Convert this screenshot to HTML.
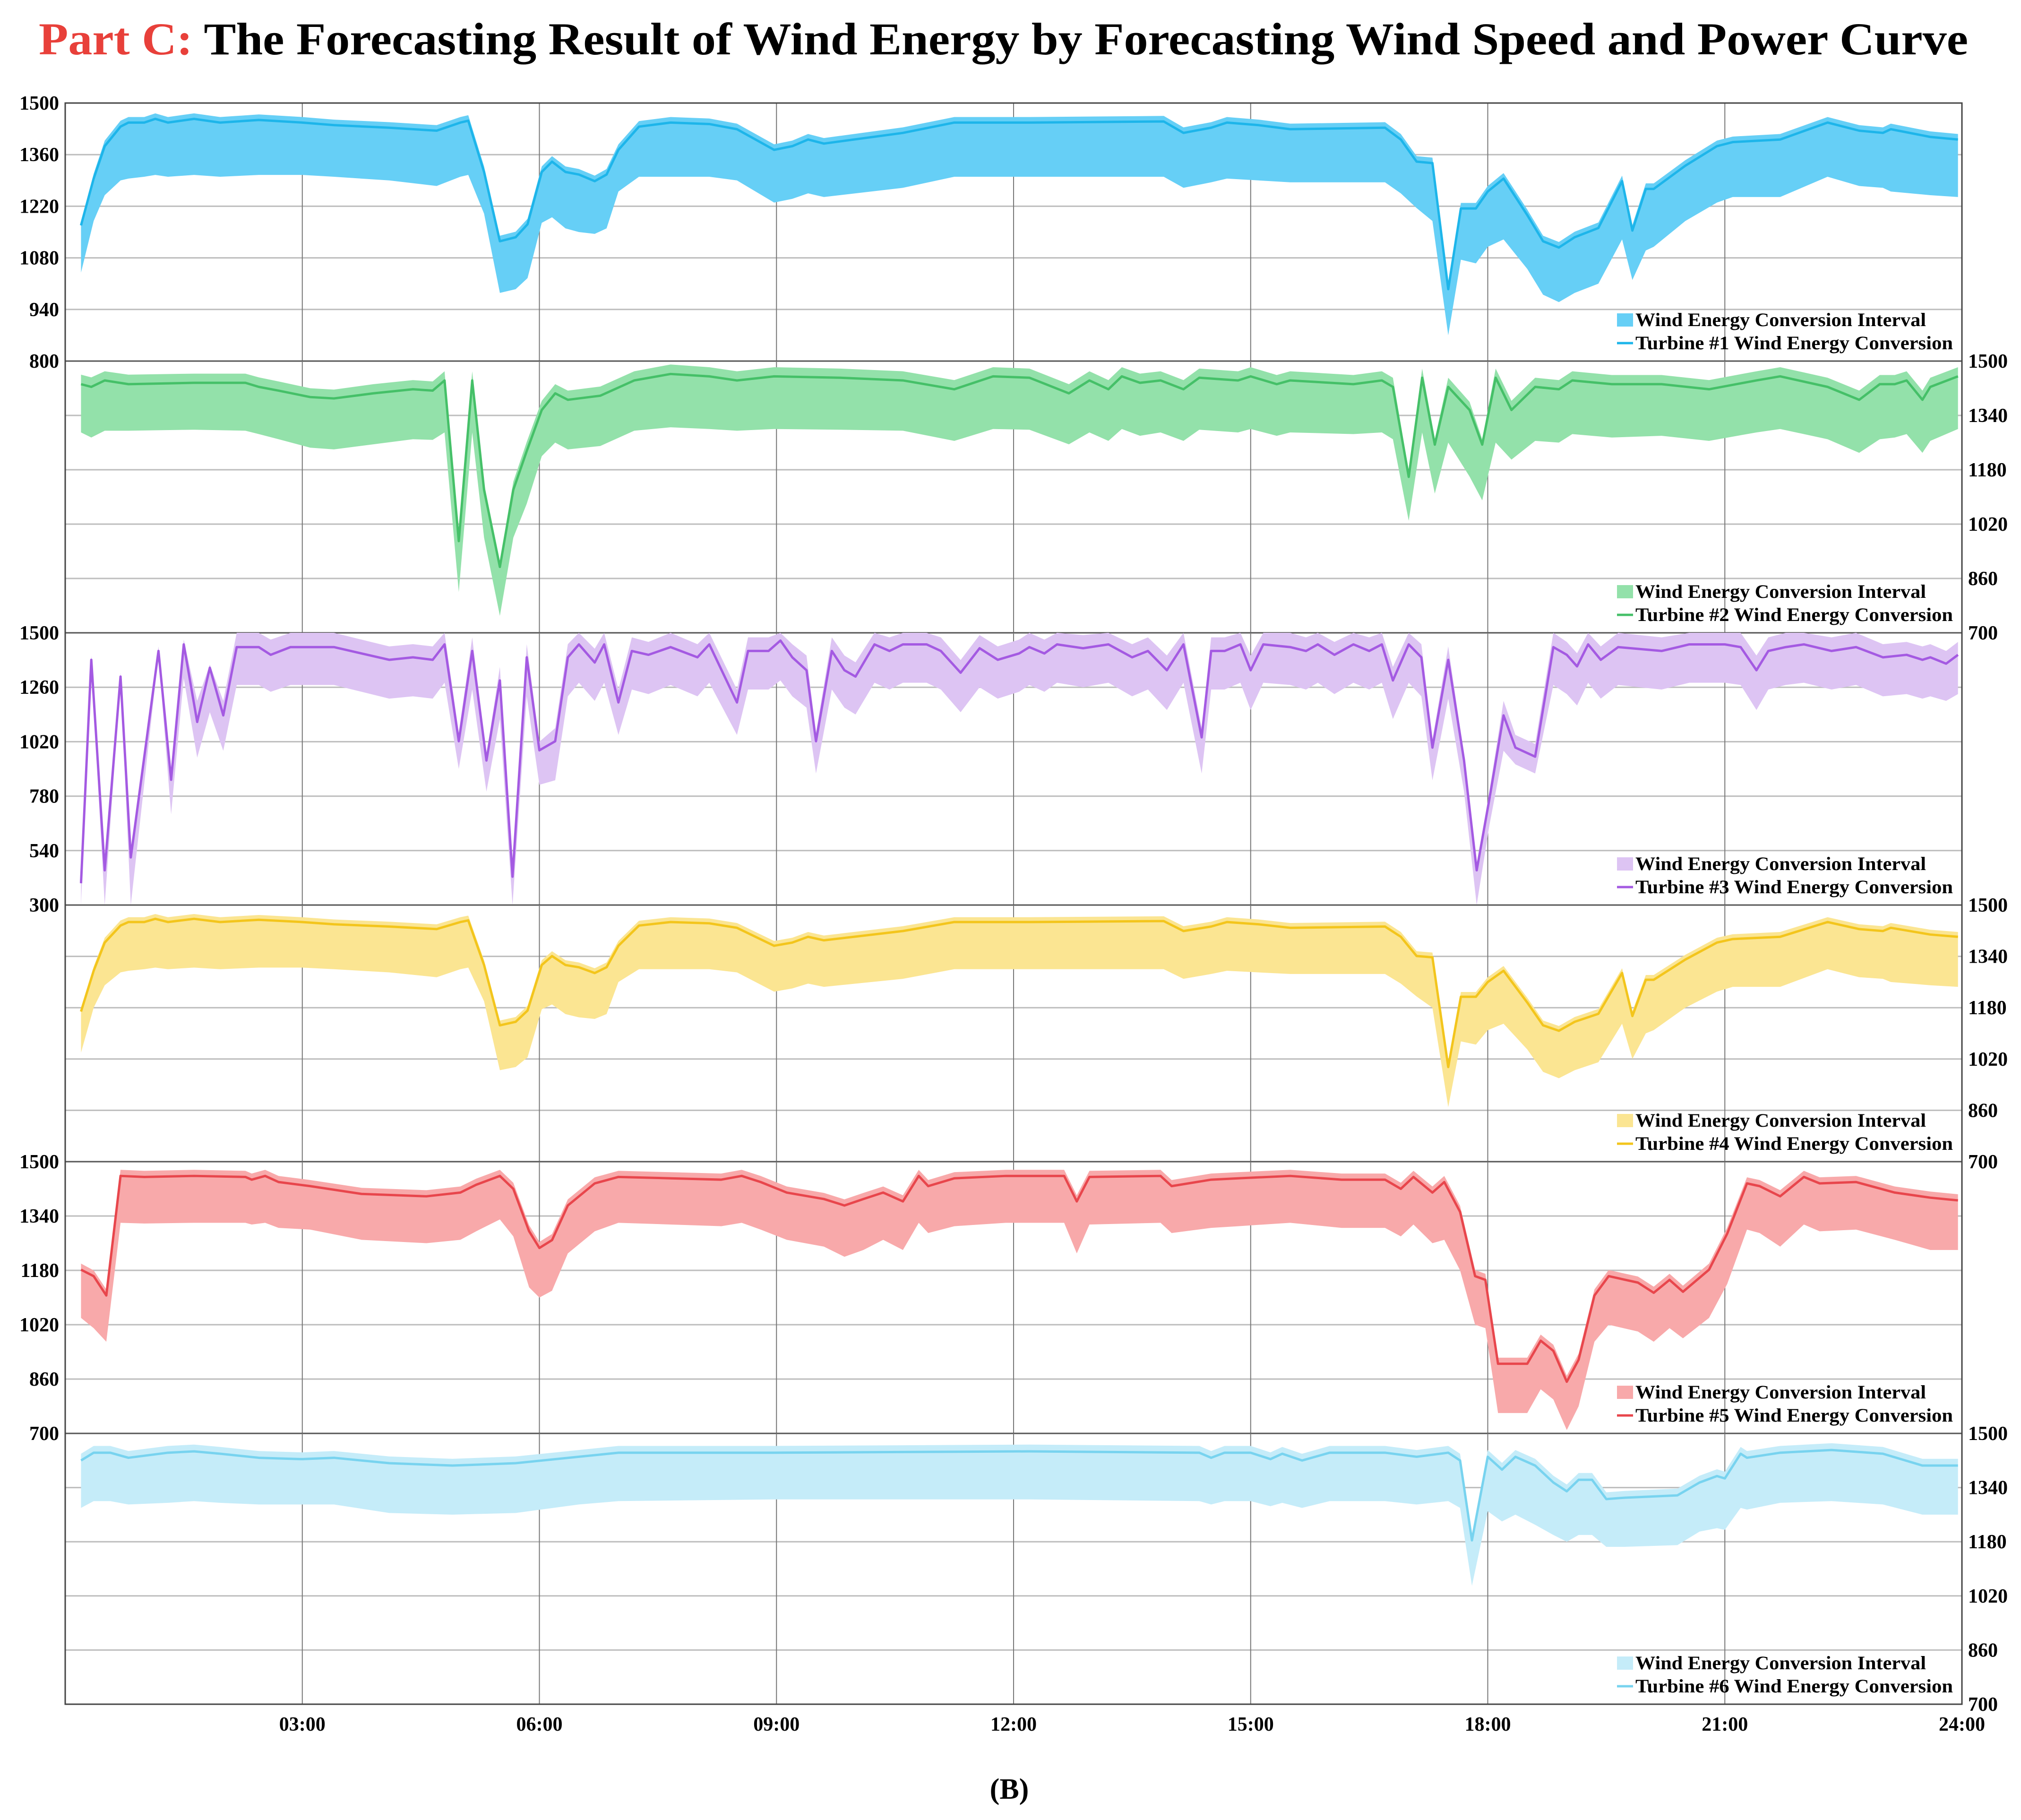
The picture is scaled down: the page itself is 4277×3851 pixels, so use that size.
<!DOCTYPE html>
<html><head><meta charset="utf-8">
<style>
html,body{margin:0;padding:0;background:#fff;}
svg{display:block;font-family:"Liberation Serif",serif;font-weight:bold;}
</style></head>
<body>
<svg id="chart" xmlns="http://www.w3.org/2000/svg" width="4277" height="3851" viewBox="0 0 4277 3851">
<rect x="0" y="0" width="4277" height="3851" fill="#fff"/>
<text x="82" y="115" font-size="96" textLength="4083" lengthAdjust="spacingAndGlyphs"><tspan fill="#e8403a">Part C:</tspan><tspan fill="#000"> The Forecasting Result of Wind Energy by Forecasting Wind Speed and Power Curve</tspan></text>
<g id="plots"></g>
<text x="2136" y="3806" font-size="62" text-anchor="middle" fill="#000">(B)</text>
</svg>
<script>
// ---- data ----
const xTickLabels = ["03:00","06:00","09:00","12:00","15:00","18:00","21:00","24:00"];
const xTickHours = [3,6,9,12,15,18,21,24];

const t1 = [0.2,0.36,0.5,0.7,0.8,1.0,1.14,1.3,1.63,1.96,2.45,3.0,3.4,4.1,4.7,5.0,5.1,5.3,5.5,5.7,5.85,6.03,6.16,6.33,6.5,6.7,6.85,7.0,7.26,7.66,8.15,8.5,8.97,9.2,9.4,9.6,10.6,11.25,12.2,13.9,14.15,14.5,14.7,15.1,15.5,16.7,16.9,17.1,17.3,17.5,17.66,17.85,18.0,18.2,18.5,18.7,18.9,19.1,19.4,19.7,19.83,20.0,20.1,20.5,20.9,21.1,21.7,22.3,22.7,23.0,23.1,23.6,23.95];
const line1 = [1168,1295,1383,1436,1447,1447,1457,1447,1457,1447,1454,1447,1440,1433,1425,1447,1452,1313,1125,1136,1171,1313,1341,1313,1306,1288,1306,1373,1436,1447,1443,1429,1373,1383,1401,1390,1419,1447,1447,1450,1419,1433,1447,1440,1429,1433,1401,1341,1337,995,1214,1214,1260,1295,1196,1125,1108,1136,1161,1288,1154,1267,1267,1330,1383,1394,1401,1447,1425,1419,1429,1408,1401];
const hi1 = [1178,1308,1398,1452,1462,1462,1472,1462,1472,1462,1469,1462,1455,1448,1440,1462,1467,1328,1140,1151,1186,1328,1356,1328,1321,1303,1321,1388,1451,1462,1458,1444,1388,1398,1416,1405,1434,1462,1462,1465,1434,1448,1462,1455,1444,1448,1416,1356,1352,1010,1229,1229,1275,1310,1211,1140,1123,1151,1176,1303,1169,1282,1282,1345,1398,1409,1416,1462,1440,1434,1444,1423,1416];
const lo1 = [1040,1180,1250,1290,1295,1300,1305,1300,1305,1300,1305,1305,1300,1290,1275,1300,1305,1200,985,995,1025,1175,1190,1160,1150,1145,1160,1260,1300,1300,1300,1290,1230,1240,1255,1245,1270,1300,1300,1300,1270,1285,1295,1290,1285,1285,1255,1215,1180,870,1075,1065,1110,1130,1050,980,960,985,1010,1130,1020,1100,1110,1180,1230,1245,1245,1300,1275,1270,1260,1250,1245];

const t2 = [0.2,0.33,0.5,0.8,1.63,2.28,2.45,2.7,3.1,3.4,3.9,4.4,4.65,4.8,4.98,5.15,5.3,5.5,5.67,5.84,6.03,6.2,6.36,6.77,7.2,7.66,8.15,8.5,8.97,9.8,10.6,11.25,11.74,12.2,12.7,12.96,13.2,13.37,13.6,13.86,14.15,14.35,14.84,15.0,15.33,15.5,16.3,16.66,16.8,17.0,17.17,17.33,17.5,17.77,17.93,18.1,18.3,18.6,18.9,19.07,19.57,20.2,20.8,21.4,21.7,22.3,22.7,22.96,23.15,23.3,23.5,23.6,23.95];
const line2 = [1432,1424,1443,1432,1436,1436,1424,1413,1394,1390,1405,1417,1413,1443,970,1443,1121,894,1121,1235,1356,1405,1386,1398,1443,1462,1455,1443,1455,1451,1443,1417,1455,1451,1405,1443,1417,1455,1436,1443,1417,1451,1443,1455,1432,1443,1432,1443,1424,1159,1451,1254,1424,1356,1254,1451,1356,1424,1417,1443,1432,1432,1417,1443,1455,1424,1386,1432,1432,1443,1386,1424,1455];
const hi2 = [1460,1452,1470,1460,1463,1463,1452,1440,1420,1416,1432,1444,1440,1470,990,1470,1140,910,1145,1262,1383,1432,1413,1425,1470,1490,1482,1470,1482,1478,1470,1444,1482,1478,1432,1470,1444,1482,1463,1470,1444,1478,1470,1482,1459,1470,1459,1470,1451,1175,1478,1270,1451,1380,1270,1478,1383,1451,1444,1470,1459,1459,1444,1470,1482,1451,1413,1459,1459,1470,1413,1451,1482];
const lo2 = [1290,1275,1295,1295,1298,1295,1285,1270,1245,1240,1255,1270,1268,1290,820,1290,980,750,980,1080,1220,1260,1240,1250,1295,1305,1300,1295,1300,1298,1295,1265,1300,1298,1255,1290,1265,1300,1280,1290,1265,1298,1290,1300,1280,1290,1285,1290,1270,1030,1290,1110,1260,1160,1090,1260,1210,1265,1260,1285,1275,1280,1265,1290,1300,1270,1230,1270,1275,1285,1230,1265,1300];

const t3 = [0.2,0.33,0.5,0.7,0.83,1.18,1.34,1.5,1.67,1.83,2.0,2.17,2.45,2.6,2.85,3.4,3.75,4.1,4.4,4.65,4.8,4.98,5.15,5.33,5.5,5.66,5.84,6.0,6.2,6.36,6.5,6.7,6.82,7.0,7.17,7.38,7.66,8.0,8.15,8.5,8.64,8.9,9.05,9.2,9.38,9.5,9.7,9.86,10.0,10.24,10.43,10.6,10.9,11.08,11.33,11.57,11.8,12.07,12.2,12.39,12.55,12.88,13.2,13.5,13.7,13.94,14.15,14.38,14.5,14.67,14.87,15.0,15.16,15.5,15.7,15.85,16.06,16.3,16.5,16.66,16.8,17.0,17.16,17.3,17.5,17.7,17.86,18.02,18.2,18.35,18.6,18.83,19.0,19.13,19.27,19.43,19.65,20.2,20.55,21.0,21.2,21.4,21.55,21.77,22.0,22.35,22.66,23.0,23.3,23.5,23.6,23.8,23.95];
const line3 = [396,1381,453,1307,510,1420,852,1449,1107,1346,1136,1437,1437,1403,1437,1437,1409,1381,1392,1381,1449,1022,1420,937,1290,425,1392,982,1022,1392,1449,1369,1449,1193,1420,1403,1437,1392,1449,1193,1420,1420,1466,1392,1335,1022,1420,1335,1307,1449,1420,1449,1449,1420,1324,1432,1381,1409,1437,1409,1449,1432,1449,1392,1420,1335,1449,1039,1420,1420,1449,1335,1449,1437,1420,1449,1403,1449,1420,1449,1290,1449,1392,994,1381,937,453,766,1136,994,954,1437,1403,1352,1449,1381,1437,1420,1449,1449,1437,1335,1420,1437,1449,1420,1437,1392,1403,1381,1392,1364,1403];
const hi3 = [410,1400,470,1325,525,1440,870,1470,1200,1360,1200,1500,1500,1470,1500,1500,1470,1440,1450,1440,1500,1060,1480,960,1350,440,1450,1020,1080,1450,1500,1430,1500,1250,1480,1460,1500,1450,1500,1250,1480,1480,1500,1450,1400,1060,1480,1400,1370,1500,1480,1500,1500,1480,1380,1490,1440,1470,1500,1470,1500,1490,1500,1450,1480,1400,1500,1080,1480,1480,1500,1400,1500,1500,1480,1500,1460,1500,1480,1500,1350,1500,1450,1030,1440,960,470,800,1200,1050,1010,1500,1460,1410,1500,1440,1500,1480,1500,1500,1500,1400,1480,1500,1500,1480,1500,1450,1460,1440,1450,1420,1460];
const lo3 = [300,1360,300,1290,300,1400,700,1300,950,1150,980,1270,1270,1240,1270,1270,1240,1210,1220,1210,1280,900,1250,800,1120,300,1220,830,850,1220,1280,1200,1280,1050,1250,1230,1270,1220,1280,1050,1250,1250,1290,1220,1170,880,1250,1170,1140,1280,1250,1280,1280,1250,1150,1260,1210,1240,1270,1240,1280,1260,1280,1220,1250,1160,1280,880,1250,1250,1280,1160,1280,1270,1250,1280,1230,1280,1250,1280,1120,1280,1220,850,1210,800,300,650,980,920,880,1270,1230,1180,1280,1210,1270,1250,1280,1280,1270,1160,1250,1270,1280,1250,1270,1220,1230,1210,1220,1200,1230];

const t4 = [0.2,0.36,0.5,0.7,0.8,1.0,1.14,1.3,1.63,1.96,2.45,3.0,3.4,4.1,4.7,5.0,5.1,5.3,5.5,5.7,5.85,6.03,6.16,6.33,6.5,6.7,6.85,7.0,7.26,7.66,8.15,8.5,8.97,9.2,9.4,9.6,10.6,11.25,12.2,13.9,14.15,14.5,14.7,15.1,15.5,16.7,16.9,17.1,17.3,17.5,17.66,17.85,18.0,18.2,18.5,18.7,18.9,19.1,19.4,19.7,19.83,20.0,20.1,20.5,20.9,21.1,21.7,22.3,22.7,23.0,23.1,23.6,23.95];
const line4 = [1168,1295,1383,1436,1447,1447,1457,1447,1457,1447,1454,1447,1440,1433,1425,1447,1452,1313,1125,1136,1171,1313,1341,1313,1306,1288,1306,1373,1436,1447,1443,1429,1373,1383,1401,1390,1419,1447,1447,1450,1419,1433,1447,1440,1429,1433,1401,1341,1337,995,1214,1214,1260,1295,1196,1125,1108,1136,1161,1288,1154,1267,1267,1330,1383,1394,1401,1447,1425,1419,1429,1408,1401];
const hi4 = [1178,1308,1398,1452,1462,1462,1472,1462,1472,1462,1469,1462,1455,1448,1440,1462,1467,1328,1140,1151,1186,1328,1356,1328,1321,1303,1321,1388,1451,1462,1458,1444,1388,1398,1416,1405,1434,1462,1462,1465,1434,1448,1462,1455,1444,1448,1416,1356,1352,1010,1229,1229,1275,1310,1211,1140,1123,1151,1176,1303,1169,1282,1282,1345,1398,1409,1416,1462,1440,1434,1444,1423,1416];
const lo4 = [1040,1180,1250,1290,1295,1300,1305,1300,1305,1300,1305,1305,1300,1290,1275,1300,1305,1200,985,995,1025,1175,1190,1160,1150,1145,1160,1260,1300,1300,1300,1290,1230,1240,1255,1245,1270,1300,1300,1300,1270,1285,1295,1290,1285,1285,1255,1215,1180,870,1075,1065,1110,1130,1050,980,960,985,1010,1130,1020,1100,1110,1180,1230,1245,1245,1300,1275,1270,1260,1250,1245];

const t5 = [0.2,0.36,0.52,0.7,1.0,1.63,2.28,2.36,2.53,2.7,3.1,3.75,4.57,5.0,5.2,5.5,5.67,5.87,6.0,6.16,6.36,6.7,7.0,7.66,8.3,8.56,8.8,9.13,9.6,9.86,10.1,10.35,10.6,10.8,10.92,11.25,11.9,12.64,12.8,12.96,13.86,14.0,14.5,14.84,15.5,16.15,16.7,16.9,17.06,17.3,17.45,17.65,17.84,17.97,18.13,18.5,18.67,18.83,19.0,19.15,19.35,19.53,19.9,20.1,20.3,20.47,20.8,21.03,21.28,21.44,21.7,22.0,22.2,22.66,23.15,23.6,23.95];
const line5 = [1182,1163,1106,1458,1455,1458,1455,1447,1458,1440,1428,1405,1398,1409,1432,1458,1420,1295,1246,1269,1371,1436,1455,1451,1447,1458,1440,1409,1390,1371,1390,1409,1383,1458,1428,1451,1458,1458,1383,1455,1458,1428,1447,1451,1458,1447,1447,1420,1455,1409,1440,1352,1163,1152,905,905,973,943,852,917,1106,1163,1144,1114,1152,1117,1182,1288,1436,1428,1398,1455,1436,1440,1409,1394,1386];
const hi5 = [1200,1180,1124,1476,1473,1476,1473,1465,1476,1458,1446,1423,1416,1427,1450,1476,1438,1313,1264,1287,1389,1454,1473,1469,1465,1476,1458,1427,1408,1389,1408,1427,1401,1476,1446,1469,1476,1476,1401,1473,1476,1446,1465,1469,1476,1465,1465,1438,1473,1427,1458,1370,1181,1170,923,923,991,961,870,935,1124,1181,1162,1132,1170,1135,1200,1306,1454,1446,1416,1473,1454,1458,1427,1412,1404];
const lo5 = [1040,1010,970,1320,1318,1320,1320,1315,1320,1305,1300,1270,1260,1270,1295,1330,1280,1130,1100,1120,1230,1295,1320,1315,1310,1320,1300,1270,1250,1220,1240,1270,1240,1320,1290,1310,1320,1320,1230,1315,1320,1290,1305,1310,1320,1305,1305,1280,1315,1260,1270,1180,1020,1010,760,760,830,800,710,780,970,1020,1000,970,1010,980,1040,1140,1300,1290,1250,1315,1295,1300,1270,1240,1240];

const t6 = [0.2,0.36,0.57,0.8,1.3,1.63,1.96,2.45,3.0,3.4,4.1,4.9,5.7,6.5,7.0,8.97,12.2,14.35,14.5,14.67,15.0,15.25,15.4,15.65,16.0,16.7,17.1,17.5,17.65,17.8,18.0,18.18,18.35,18.6,18.83,19.0,19.15,19.32,19.5,19.73,20.4,20.68,20.9,21.0,21.2,21.28,21.7,22.35,23.0,23.5,23.95];
const line6 = [1420,1443,1443,1428,1443,1447,1440,1428,1424,1428,1412,1405,1412,1431,1443,1443,1447,1443,1428,1443,1443,1424,1440,1420,1443,1443,1431,1443,1420,1184,1431,1393,1431,1405,1355,1329,1363,1363,1306,1310,1317,1355,1374,1367,1440,1428,1443,1451,1440,1405,1405];
const hi6 = [1440,1463,1463,1448,1463,1467,1460,1448,1444,1448,1432,1425,1432,1451,1463,1463,1467,1463,1448,1463,1463,1444,1460,1440,1463,1463,1451,1463,1440,1200,1451,1413,1451,1425,1375,1349,1383,1383,1326,1330,1337,1375,1394,1387,1460,1448,1463,1471,1460,1425,1425];
const lo6 = [1280,1300,1300,1290,1295,1300,1295,1290,1290,1290,1265,1260,1265,1290,1300,1305,1305,1300,1290,1300,1300,1285,1295,1280,1300,1300,1290,1300,1280,1050,1270,1240,1260,1230,1200,1180,1200,1200,1165,1165,1170,1210,1220,1215,1280,1275,1295,1300,1290,1260,1260];

const ticksA = [1500,1360,1220,1080,940,800];
const ticksB = [1500,1340,1180,1020,860,700];
const ticksC = [1500,1260,1020,780,540,300];

// ---- layout ----
const NS = "http://www.w3.org/2000/svg";
const L = 138, R = 4152;
const panels = [
  {top:218, bot:764, min:800, max:1500, ticks:ticksA, side:"left", t:t1, line:line1, hi:hi1, lo:lo1, band:"#66cff6", stroke:"#1db5ea", num:1},
  {top:764, bot:1339, min:700, max:1500, ticks:ticksB, side:"right", t:t2, line:line2, hi:hi2, lo:lo2, band:"#93e1aa", stroke:"#45c068", num:2},
  {top:1339, bot:1915, min:300, max:1500, ticks:ticksC, side:"left", t:t3, line:line3, hi:hi3, lo:lo3, band:"#ddc4f3", stroke:"#a45ae2", num:3},
  {top:1915, bot:2458, min:700, max:1500, ticks:ticksB, side:"right", t:t4, line:line4, hi:hi4, lo:lo4, band:"#fbe592", stroke:"#f3c51c", num:4},
  {top:2458, bot:3033, min:700, max:1500, ticks:ticksB, side:"left", t:t5, line:line5, hi:hi5, lo:lo5, band:"#f8a9aa", stroke:"#e8464c", num:5},
  {top:3033, bot:3606, min:700, max:1500, ticks:ticksB, side:"right", t:t6, line:line6, hi:hi6, lo:lo6, band:"#c5ecf9", stroke:"#78d3ef", num:6}
];
const xs = h => L + (h/24)*(R-L);
const root = document.getElementById("plots");
function mk(tag, attrs, parent){
  const e = document.createElementNS(NS, tag);
  for (const k in attrs) e.setAttribute(k, attrs[k]);
  (parent||root).appendChild(e);
  return e;
}

panels.forEach((p, i) => {
  const ys = v => p.bot - (v - p.min)/(p.max - p.min)*(p.bot - p.top);
  const g = mk("g", {});
  
  
  // horizontal grid
  p.ticks.forEach(v => {
    const y = ys(v);
    const gl = mk("line", {x1:L, x2:R, y1:y, y2:y, stroke:(v===p.max||v===p.min)?"#555":"#bdbdbd", "stroke-width":(v===p.max||v===p.min)?3:3}, g);
    
    
    const tx = mk("text", {x: p.side==="left" ? 125 : 4165, y: y+14, "font-size":42, "text-anchor": p.side==="left"?"end":"start", fill:"#000"}, g);
    tx.textContent = v;
    
    
  });
  // vertical grid
  xTickHours.forEach(h => {
    const vl = mk("line", {x1:xs(h), x2:xs(h), y1:p.top, y2:p.bot, stroke:"#777", "stroke-width":2}, g);
    
    
  });
  // band
  let pts = p.t.map((h,k) => xs(h)+","+ys(p.hi[k]));
  for (let k=p.t.length-1;k>=0;k--) pts.push(xs(p.t[k])+","+ys(p.lo[k]));
  const band = mk("polygon", {points: pts.join(" "), fill:p.band, stroke:"none"}, g);
  
  
  const ln = mk("polyline", {points: p.t.map((h,k)=>xs(h)+","+ys(p.line[k])).join(" "), fill:"none", stroke:p.stroke, "stroke-width":5, "stroke-linejoin":"round"}, g);
  
  
  // legend
  const lg = mk("g", {}, g);
  
  
  const r1 = p.bot - 87, r2 = p.bot - 38;
  const sw = mk("rect", {x:3422, y:r1-14, width:34, height:28, fill:p.band}, lg);
  
  
  const sl = mk("line", {x1:3422, x2:3456, y1:r2, y2:r2, stroke:p.stroke, "stroke-width":5}, lg);
  
  
  const l1 = mk("text", {x:3461, y:r1+13, "font-size":40, textLength:615, lengthAdjust:"spacingAndGlyphs", fill:"#000"}, lg);
  l1.textContent = "Wind Energy Conversion Interval";
  
  
  const l2 = mk("text", {x:3461, y:r2+13, "font-size":40, textLength:672, lengthAdjust:"spacingAndGlyphs", fill:"#000"}, lg);
  l2.textContent = "Turbine #" + p.num + " Wind Energy Conversion";
  
  
});
// frame
const fr = mk("rect", {x:L, y:218, width:R-L, height:3606-218, fill:"none", stroke:"#444", "stroke-width":3});


// x tick labels
xTickHours.forEach((h,k) => {
  const tx = mk("text", {x:xs(h), y:3662, "font-size":42, "text-anchor":"middle", fill:"#000"});
  tx.textContent = xTickLabels[k];
  
  
});
</script>
</body></html>
